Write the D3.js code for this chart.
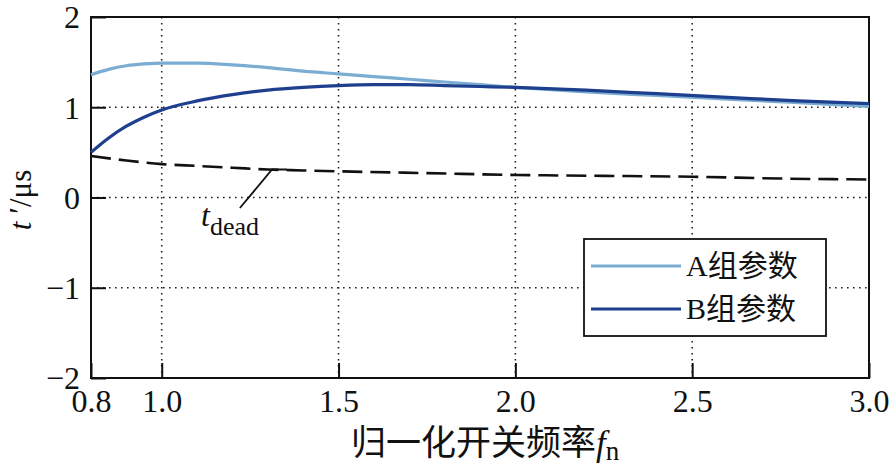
<!DOCTYPE html>
<html>
<head>
<meta charset="utf-8">
<script src="https://cdn.jsdelivr.net/npm/d3@7/dist/d3.min.js"></script>
<style>
  body { margin: 0; background: #fff; }
  text { font-family: "Liberation Serif", "Noto Sans CJK SC", serif; fill: #111; }
</style>
</head>
<body>
<svg id="chart" width="894" height="469"></svg>
<script>
// data
const fnA = [0.8, 0.85, 0.9, 0.95, 1.0, 1.05, 1.1, 1.2, 1.3, 1.4, 1.5, 1.6, 1.7, 1.8, 1.9, 2.0, 2.2, 2.4, 2.6, 2.8, 3.0];
const tA  = [1.36, 1.42, 1.46, 1.48, 1.49, 1.49, 1.49, 1.47, 1.44, 1.40, 1.37, 1.34, 1.31, 1.28, 1.25, 1.22, 1.17, 1.13, 1.09, 1.05, 1.01];
const fnB = [0.8, 0.85, 0.9, 0.95, 1.0, 1.1, 1.2, 1.3, 1.4, 1.5, 1.6, 1.7, 1.8, 1.9, 2.0, 2.2, 2.4, 2.6, 2.8, 3.0];
const tB  = [0.50, 0.66, 0.79, 0.89, 0.97, 1.07, 1.14, 1.19, 1.22, 1.24, 1.25, 1.25, 1.24, 1.23, 1.22, 1.19, 1.15, 1.11, 1.07, 1.04];
const fnDead = [0.8, 0.9, 1.0, 1.1, 1.2, 1.3, 1.4, 1.5, 1.75, 2.0, 2.25, 2.5, 2.75, 3.0];
const tDead  = [0.46, 0.41, 0.37, 0.35, 0.33, 0.31, 0.30, 0.29, 0.27, 0.25, 0.24, 0.23, 0.21, 0.20];
const xTicks = [0.8, 1.0, 1.5, 2.0, 2.5, 3.0];
const yTicks = [-2, -1, 0, 1, 2];
const seriesNames = ["A组参数", "B组参数"];
const colors = ["#7badd3", "#1d3f8e"];

const svg = d3.select("#chart");
const plotL = 91, plotR = 869, plotT = 17, plotB = 378;

const x = d3.scaleLinear().domain([0.8, 3.0]).range([plotL, plotR]);
const y = d3.scaleLinear().domain([-2, 2]).range([plotB, plotT]);

// grid (dotted)
const grid = svg.append("g").attr("stroke", "#222").attr("stroke-width", 1.6)
  .attr("stroke-dasharray", "1.6,4.4");
grid.selectAll("line.gx").data(xTicks.slice(1, -1)).enter().append("line")
  .attr("x1", d => x(d)).attr("x2", d => x(d)).attr("y1", plotT).attr("y2", plotB);
grid.selectAll("line.gy").data(yTicks.slice(1, -1)).enter().append("line")
  .attr("y1", d => y(d)).attr("y2", d => y(d)).attr("x1", plotL).attr("x2", plotR);

// axes with inward ticks
const xAxis = d3.axisBottom(x).tickValues(xTicks).tickSize(-15)
  .tickFormat(d3.format(".1f"));
const yAxis = d3.axisLeft(y).tickValues(yTicks).tickSize(-15)
  .tickFormat(d => d < 0 ? "\u2212" + Math.abs(d) : d);

const gx = svg.append("g").attr("transform", `translate(0,${plotB})`).call(xAxis);
const gy = svg.append("g").attr("transform", `translate(${plotL},0)`).call(yAxis);
[gx, gy].forEach(g => {
  g.select(".domain").remove();
  g.selectAll(".tick line").attr("stroke", "#111").attr("stroke-width", 2);
  g.selectAll(".tick text").style("font-size", "32px").style("font-family", "Liberation Serif");
});
gx.selectAll(".tick text").attr("y", 34).attr("dy", 0);
gy.selectAll(".tick text").attr("x", -11).attr("dy", "0.34em");

// frame
svg.append("rect").attr("x", plotL).attr("y", plotT).attr("width", plotR - plotL).attr("height", plotB - plotT)
  .attr("fill", "none").attr("stroke", "#111").attr("stroke-width", 2);

const line = d3.line().x(d => x(d[0])).y(d => y(d[1])).curve(d3.curveMonotoneX);

svg.append("path").datum(d3.zip(fnDead, tDead)).attr("d", line)
  .attr("fill", "none").attr("stroke", "#111").attr("stroke-width", 2.6).attr("stroke-dasharray", "20,8");
svg.append("path").datum(d3.zip(fnA, tA)).attr("d", line)
  .attr("fill", "none").attr("stroke", colors[0]).attr("stroke-width", 3.2);
svg.append("path").datum(d3.zip(fnB, tB)).attr("d", line)
  .attr("fill", "none").attr("stroke", colors[1]).attr("stroke-width", 3.2);

// t_dead annotation
svg.append("polyline")
  .attr("points", `${x(1.221)},208 ${x(1.312)},${y(0.31)} ${x(1.354)},${y(0.31)}`)
  .attr("fill", "none").attr("stroke", "#111").attr("stroke-width", 1.8);
const td = svg.append("text").attr("x", 201).attr("y", 226).style("font-size", "32px");
td.append("tspan").attr("font-style", "italic").text("t");
td.append("tspan").style("font-size", "26px").attr("dy", 9).text("dead");

// legend
const lg = svg.append("g");
lg.append("rect").attr("x", 584).attr("y", 239).attr("width", 242).attr("height", 97)
  .attr("fill", "#fff").attr("stroke", "#111").attr("stroke-width", 1.8);
seriesNames.forEach((name, i) => {
  const yy = 266 + i * 43;
  lg.append("line").attr("x1", 591).attr("x2", 681).attr("y1", yy).attr("y2", yy)
    .attr("stroke", colors[i]).attr("stroke-width", 3.2);
  lg.append("text").attr("x", 686).attr("y", yy + 10).style("font-size", "30px").text(name);
});

// axis titles
const xt = svg.append("text").attr("x", 485).attr("y", 455).attr("text-anchor", "middle").style("font-size", "35px");
xt.append("tspan").text("归一化开关频率");
xt.append("tspan").attr("font-style", "italic").text("f");
xt.append("tspan").style("font-size", "27px").attr("dy", 5).text("n");

const yt = svg.append("text").attr("transform", "translate(31,200) rotate(-90)")
  .attr("text-anchor", "middle").style("font-size", "31px");
yt.append("tspan").attr("font-style", "italic").text("t");
yt.append("tspan").text(" \u2032/\u03bcs");
</script>
</body>
</html>
